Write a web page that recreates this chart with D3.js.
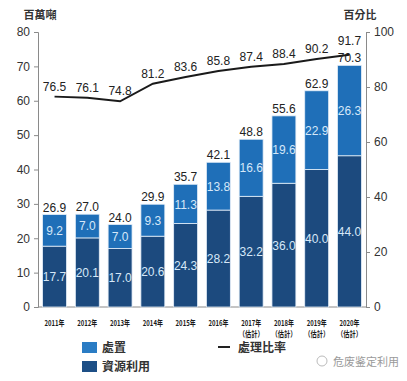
<!DOCTYPE html>
<html><head><meta charset="utf-8">
<script src="https://cdn.jsdelivr.net/npm/d3@7"></script>
<style>body{margin:0;background:#fff}svg{display:block}</style>
</head><body>
<script>
const years = ["2011年","2012年","2013年","2014年","2015年","2016年","2017年","2018年","2019年","2020年"];
const estimated = [false,false,false,false,false,false,true,true,true,true];
const disposal = [9.2,7.0,7.0,9.3,11.3,13.8,16.6,19.6,22.9,26.3];      // 處置
const utilization = [17.7,20.1,17.0,20.6,24.3,28.2,32.2,36.0,40.0,44.0]; // 資源利用
const totals = [26.9,27.0,24.0,29.9,35.7,42.1,48.8,55.6,62.9,70.3];
const ratio = [76.5,76.1,74.8,81.2,83.6,85.8,87.4,88.4,90.2,91.7];       // 處理比率
const leftTicks = [0,10,20,30,40,50,60,70,80];
const rightTicks = [0,20,40,60,80,100];

const W = 407, H = 381;
const L = 38, R = 366, T = 32, B = 307;
const cDisp = "#1f6fb8", cUtil = "#1c4a7e", cLab = "#d6e8f8";
const sans = "Liberation Sans, Arial, sans-serif";
const cjk = "'Noto Sans CJK TC', 'Noto Sans CJK SC', sans-serif";

const svg = d3.select("body").append("svg").attr("width", W).attr("height", H);

const x = d3.scaleBand().domain(years).range([L, R]).paddingInner(0.27).paddingOuter(0.14);
const y = d3.scaleLinear().domain([0, 80]).range([B, T]);
const y2 = d3.scaleLinear().domain([0, 100]).range([B, T]);

// axes
const gl = svg.append("g").attr("transform", `translate(${L},0)`)
  .call(d3.axisLeft(y).tickValues(leftTicks).tickSize(4).tickPadding(4));
const gr = svg.append("g").attr("transform", `translate(${R},0)`)
  .call(d3.axisRight(y2).tickValues(rightTicks).tickSize(4).tickPadding(4));
[gl, gr].forEach(g => {
  g.select(".domain").attr("stroke", "#8a8a8a");
  g.selectAll(".tick line").attr("stroke", "#8a8a8a");
  g.selectAll(".tick text").attr("fill", "#333").attr("font-size", 12).attr("font-family", sans);
});
svg.append("line").attr("x1", L).attr("x2", R).attr("y1", B).attr("y2", B).attr("stroke", "#8a8a8a");

// bars
const bars = svg.append("g");
years.forEach((yr, i) => {
  const bx = x(yr), bw = x.bandwidth();
  bars.append("rect").attr("x", bx).attr("width", bw)
    .attr("y", y(utilization[i])).attr("height", y(0) - y(utilization[i]))
    .attr("fill", cUtil).attr("stroke", "#e4eef8").attr("stroke-width", 0.8);
  bars.append("rect").attr("x", bx).attr("width", bw)
    .attr("y", y(totals[i])).attr("height", y(utilization[i]) - y(totals[i]))
    .attr("fill", cDisp).attr("stroke", "#e4eef8").attr("stroke-width", 0.8);
  const cx = bx + bw / 2;
  bars.append("text").attr("x", cx).attr("y", y(utilization[i] / 2) + 4.5)
    .attr("text-anchor", "middle").attr("font-size", 12).attr("font-family", sans)
    .attr("fill", cLab).text(utilization[i].toFixed(1));
  bars.append("text").attr("x", cx).attr("y", y(utilization[i] + disposal[i] / 2) + 4.5)
    .attr("text-anchor", "middle").attr("font-size", 12).attr("font-family", sans)
    .attr("fill", cLab).text(disposal[i].toFixed(1));
  bars.append("text").attr("x", cx).attr("y", y(totals[i]) - 3)
    .attr("text-anchor", "middle").attr("font-size", 12).attr("font-family", sans)
    .attr("fill", "#222").text(totals[i].toFixed(1));
  // x labels
  svg.append("text").attr("x", cx).attr("y", 326).attr("text-anchor", "middle")
    .attr("font-size", 8).attr("font-weight", "bold").attr("font-family", cjk).attr("fill", "#1a1a1a")
    .attr("textLength", 20).attr("lengthAdjust", "spacingAndGlyphs")
    .text(yr);
  if (estimated[i]) {
    svg.append("text").attr("x", cx).attr("y", 337).attr("text-anchor", "middle")
      .attr("font-size", 8).attr("font-weight", "bold").attr("font-family", cjk).attr("fill", "#1a1a1a")
      .attr("textLength", 25).attr("lengthAdjust", "spacingAndGlyphs")
      .text("（估計）");
  }
});

// ratio line
const line = d3.line().x((d, i) => x(years[i]) + x.bandwidth() / 2).y(d => y2(d));
svg.append("path").datum(ratio).attr("d", line).attr("fill", "none")
  .attr("stroke", "#1a1a1a").attr("stroke-width", 2);
svg.append("g").selectAll("text").data(ratio).join("text")
  .attr("x", (d, i) => x(years[i]) + x.bandwidth() / 2)
  .attr("y", (d, i) => Math.min(y2(d) - 6, y(totals[i]) - 20))
  .attr("text-anchor", "middle").attr("font-size", 12).attr("font-family", sans).attr("fill", "#222")
  .text(d => d.toFixed(1));

// axis titles
svg.append("text").attr("x", 40).attr("y", 19).attr("text-anchor", "middle")
  .attr("font-size", 11).attr("font-weight", "bold").attr("font-family", cjk).attr("fill", "#333").text("百萬噸");
svg.append("text").attr("x", 360).attr("y", 19).attr("text-anchor", "middle")
  .attr("font-size", 11).attr("font-weight", "bold").attr("font-family", cjk).attr("fill", "#333").text("百分比");

// legend
const lg = svg.append("g");
lg.append("rect").attr("x", 82).attr("y", 342).attr("width", 15).attr("height", 11).attr("fill", "#2a7cc4");
lg.append("text").attr("x", 102).attr("y", 352).attr("font-size", 12).attr("font-weight", "bold")
  .attr("font-family", cjk).attr("fill", "#333").text("處置");
lg.append("rect").attr("x", 82).attr("y", 361).attr("width", 15).attr("height", 11).attr("fill", "#1d4f86");
lg.append("text").attr("x", 102).attr("y", 371).attr("font-size", 12).attr("font-weight", "bold")
  .attr("font-family", cjk).attr("fill", "#333").text("資源利用");
lg.append("line").attr("x1", 218).attr("x2", 230).attr("y1", 347).attr("y2", 347)
  .attr("stroke", "#222").attr("stroke-width", 2);
lg.append("text").attr("x", 238).attr("y", 352).attr("font-size", 12).attr("font-weight", "bold")
  .attr("font-family", cjk).attr("fill", "#333").text("處理比率");

// source mark
svg.append("circle").attr("cx", 322).attr("cy", 361).attr("r", 5).attr("fill", "none").attr("stroke", "#bbb");
svg.append("text").attr("x", 333).attr("y", 366).attr("font-size", 11).attr("font-family", cjk)
  .attr("fill", "#9a9a9a").text("危废鉴定利用");
</script>
</body></html>
